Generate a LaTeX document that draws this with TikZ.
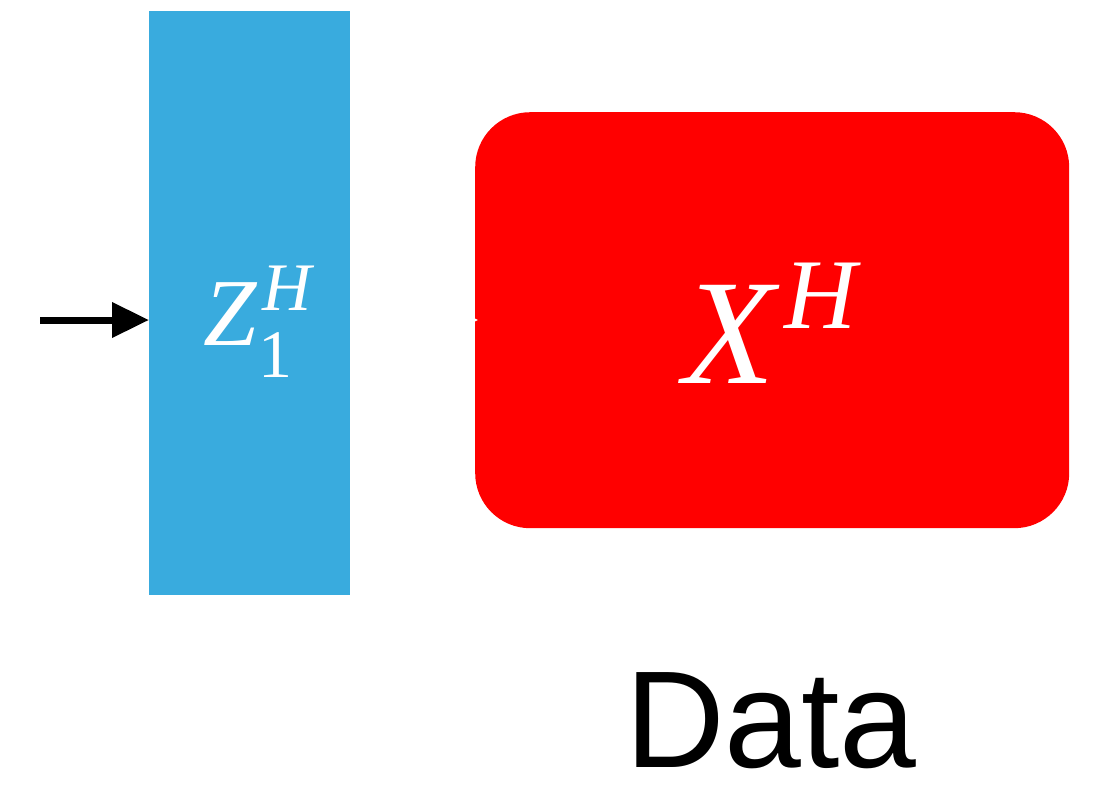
\documentclass[tikz,border=0pt]{standalone}
\usepackage{fontspec}
\setmainfont{Liberation Serif}
\newfontfamily\datafont{Liberation Sans}
\usetikzlibrary{arrows.meta}
\definecolor{zblue}{HTML}{39ABDE}
\definecolor{xred}{HTML}{FF0000}
\begin{document}
\begin{tikzpicture}[x=1pt,y=-1pt,
  lbl/.style={inner sep=0pt, outer sep=0pt, text=white, anchor=base west},
  conn/.style={line width=7pt, -{Triangle[length=37pt,width=34pt]}}]
\useasboundingbox (0,0) rectangle (1101,793);
\fill[white] (0,0) rectangle (1101,793);
% blue bar
\node[fill=zblue, minimum width=201pt, minimum height=584pt, inner sep=0pt, anchor=north west] (z) at (149,11) {};
% red box
\node[fill=xred, rounded corners=55pt, minimum width=594pt, minimum height=416pt, inner sep=0pt, anchor=north west] (x) at (475,112) {};
% labels
\node[lbl] (zl) at (203,345) {\fontsize{96}{96}\selectfont\itshape Z\hspace{6pt}\rlap{\raisebox{35pt}{\fontsize{68}{68}\selectfont H}}\hspace{-4pt}\raisebox{-32pt}{\fontsize{68}{68}\selectfont\upshape 1}};
\node[lbl] (xl) at (683,383) {\fontsize{150}{150}\selectfont\itshape X\hspace{10pt}\raisebox{55pt}{\fontsize{100}{100}\selectfont H}};
\node[inner sep=0pt, anchor=base] (data) at (771,767) {\datafont\fontsize{138}{138}\selectfont Data};
% connectors
\coordinate (in) at (40,320);
\draw[conn] (in) -- (z.west |- in);
\draw[white, line width=2pt, -{Triangle[length=9pt,width=8pt]}, shorten >=-3pt] (z.east |- in) -- (x.west |- in);
\end{tikzpicture}
\end{document}
